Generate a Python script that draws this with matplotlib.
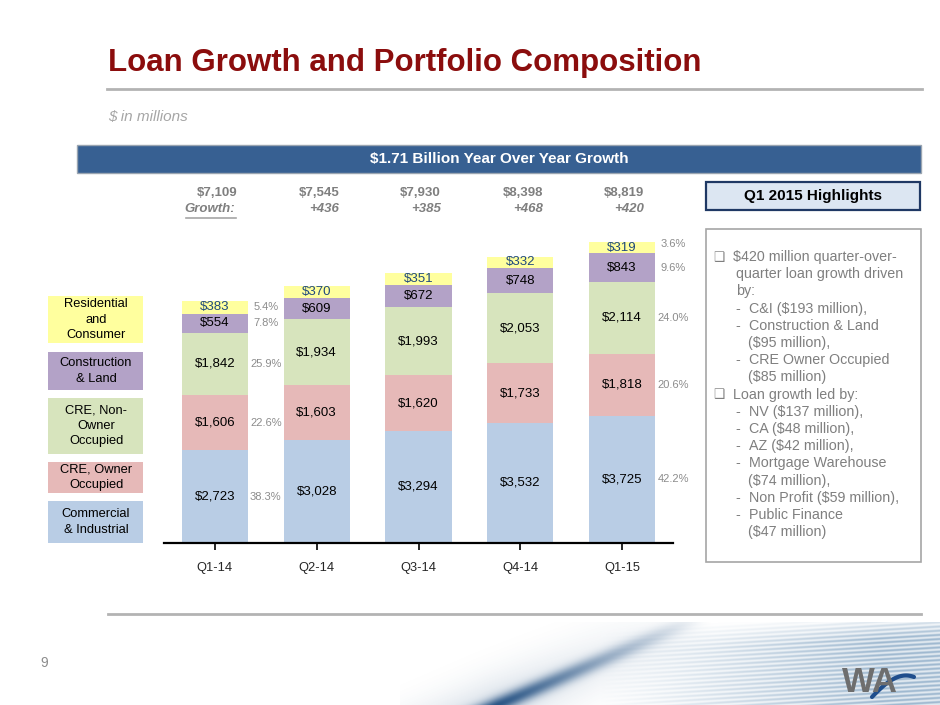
"""Loan growth and portfolio composition slide: stacked bars by loan category."""

import matplotlib

matplotlib.use("Agg")
import matplotlib.pyplot as plt
import matplotlib.patches as mpatches
import matplotlib.transforms as mtransforms
from matplotlib.lines import Line2D
import numpy as np

plt.rcParams["font.family"] = ["Liberation Sans", "DejaVu Sans"]

# ---- data -------------------------------------------------------------
quarters = ["Q1-14", "Q2-14", "Q3-14", "Q4-14", "Q1-15"]
commercial_industrial = [2723, 3028, 3294, 3532, 3725]
cre_owner_occupied = [1606, 1603, 1620, 1733, 1818]
cre_non_owner_occupied = [1842, 1934, 1993, 2053, 2114]
construction_land = [554, 609, 672, 748, 843]
residential_consumer = [383, 370, 351, 332, 319]
totals = [7109, 7545, 7930, 8398, 8819]
growth = [None, 436, 385, 468, 420]
pct_first = [38.3, 22.6, 25.9, 7.8, 5.4]
pct_last = [42.2, 20.6, 24.0, 9.6, 3.6]

segment_labels = [
    "Commercial\n& Industrial",
    "CRE, Owner\nOccupied",
    "CRE, Non-\nOwner\nOccupied",
    "Construction\n& Land",
    "Residential\nand\nConsumer",
]
segment_colors = ["#b9cde5", "#e6b9b8", "#d7e4bd", "#b3a2c7", "#ffff9e"]

highlight_lines = [
    ("box", "$420 million quarter-over-"),
    ("cont", "quarter loan growth driven"),
    ("cont", "by:"),
    ("dash", "C&I ($193 million),"),
    ("dash", "Construction & Land"),
    ("sub", "($95 million),"),
    ("dash", "CRE Owner Occupied"),
    ("sub", "($85 million)"),
    ("box", "Loan growth led by:"),
    ("dash", "NV ($137 million),"),
    ("dash", "CA ($48 million),"),
    ("dash", "AZ ($42 million),"),
    ("dash", "Mortgage Warehouse"),
    ("sub", "($74 million),"),
    ("dash", "Non Profit ($59 million),"),
    ("dash", "Public Finance"),
    ("sub", "($47 million)"),
]

W, H = 940, 705
fig = plt.figure(figsize=(W / 100, H / 100), dpi=100)


def fx(x):
    return x / W


def fy(y):
    return 1 - y / H


def rect(x0, y0, x1, y1, **kw):
    r = mpatches.Rectangle((fx(x0), fy(y1)), (x1 - x0) / W, (y1 - y0) / H,
                           transform=fig.transFigure, **kw)
    fig.add_artist(r)
    return r


def hline(x0, x1, y, **kw):
    fig.add_artist(Line2D([fx(x0), fx(x1)], [fy(y), fy(y)], transform=fig.transFigure, **kw))


# ---- header -----------------------------------------------------------
fig.text(fx(108), fy(63), "Loan Growth and Portfolio Composition", fontsize=22.5,
         fontweight="bold", color="#8b0d0d", va="center", ha="left")
hline(107, 922, 89, color="#b3b3b3", lw=2)
fig.text(fx(108), fy(117), "$ in millions", fontsize=11, style="italic",
         color="#a6a6a6", va="center", ha="left")

rect(77, 145, 921, 173, facecolor="#376092", edgecolor="#9aa5b1", lw=1)
fig.text(fx(499), fy(159), "$1.71 Billion Year Over Year Growth", fontsize=11,
         fontweight="bold", color="white", va="center", ha="center")

rect(706, 182, 920, 210, facecolor="#dce6f2", edgecolor="#1f3864", lw=1.6)
fig.text(fx(813), fy(196), "Q1 2015 Highlights", fontsize=11, fontweight="bold",
         color="black", va="center", ha="center")

# ---- chart ------------------------------------------------------------
ax = fig.add_axes([fx(164), fy(543), 509 / W, 313 / H])
x = np.arange(len(quarters))
series = [commercial_industrial, cre_owner_occupied, cre_non_owner_occupied,
          construction_land, residential_consumer]
bottom = np.zeros(len(quarters))
centers = []
for k, (vals, color) in enumerate(zip(series, segment_colors)):
    vals = np.array(vals, dtype=float)
    ax.bar(x, vals, bottom=bottom, width=0.65, color=color, edgecolor="none")
    mid = bottom + vals / 2
    centers.append(mid)
    txt_color = "#1f497d" if k == 4 else "black"
    for i in range(len(quarters)):
        ax.text(x[i], mid[i], f"${int(vals[i]):,}", ha="center", va="center",
                fontsize=9.5, color=txt_color)
    bottom = bottom + vals

for k in range(5):
    ax.text(x[0] + 0.5, centers[k][0], f"{pct_first[k]:.1f}%", ha="center",
            va="center", fontsize=8, color="#8c8c8c")
    ax.text(x[-1] + 0.5, centers[k][-1] + (120 if k == 4 else 0), f"{pct_last[k]:.1f}%",
            ha="center", va="center", fontsize=8, color="#8c8c8c")

ax.set_xlim(-0.5, 4.5)
ax.set_ylim(0, 9180)
ax.set_xticks(x)
ax.set_xticklabels(quarters)
ax.set_yticks([])
for side in ["top", "left", "right"]:
    ax.spines[side].set_visible(False)
ax.spines["bottom"].set_linewidth(1.6)
ax.tick_params(axis="x", length=5, width=1.2, pad=9, labelsize=9.3, labelcolor="#262626")
ax.patch.set_alpha(0)

# totals and growth row above the bars
blend = mtransforms.blended_transform_factory(ax.transData, fig.transFigure)
for i in range(len(quarters)):
    ax.text(x[i] + 0.22, fy(193), f"${totals[i]:,}", transform=blend, ha="right",
            va="center", fontsize=9.5, fontweight="bold", color="#7f7f7f")
    if growth[i] is None:
        ax.text(x[i] + 0.2, fy(209), "Growth:", transform=blend, ha="right",
                va="center", fontsize=9.5, fontweight="bold", style="italic",
                color="#7f7f7f")
    else:
        ax.text(x[i] + 0.22, fy(209), f"+{growth[i]}", transform=blend, ha="right",
                va="center", fontsize=9.5, fontweight="bold", style="italic",
                color="#7f7f7f")
hline(186, 236, 218, color="#a6a6a6", lw=1.2)

# ---- left legend boxes ------------------------------------------------
legend_boxes = [(501, 543), (462, 493), (398, 454), (352, 390), (296, 343)]
for (y0, y1), label, color in zip(legend_boxes, segment_labels, segment_colors):
    rect(48, y0, 143, y1, facecolor=color, edgecolor="none")
    fig.text(fx(96), fy((y0 + y1) / 2), label, ha="center", va="center",
             fontsize=9.3, color="black", linespacing=1.38)

# ---- highlights box ---------------------------------------------------
rect(706, 229, 921, 562, facecolor="white", edgecolor="#a6a6a6", lw=1.2)
for j, (kind, text) in enumerate(highlight_lines):
    yy = fy(257 + j * 17.2)
    if kind == "box":
        fig.text(fx(719), yy, "\u2751", ha="center", va="center", fontsize=9,
                 color="#7f7f7f", family=["DejaVu Sans"])
        fig.text(fx(733), yy, text, ha="left", va="center", fontsize=10.3, color="#7f7f7f")
    elif kind == "cont":
        fig.text(fx(736), yy, text, ha="left", va="center", fontsize=10.3, color="#7f7f7f")
    elif kind == "dash":
        fig.text(fx(738), yy, "-", ha="center", va="center", fontsize=10.3, color="#7f7f7f")
        fig.text(fx(749), yy, text, ha="left", va="center", fontsize=10.3, color="#7f7f7f")
    else:
        fig.text(fx(748), yy, text, ha="left", va="center", fontsize=10.3, color="#7f7f7f")

# ---- footer -----------------------------------------------------------
hline(108, 921, 614, color="#b3b3b3", lw=2)
fig.text(fx(44), fy(663), "9", ha="center", va="center", fontsize=10, color="#8c8c8c")

# decorative swoosh (background graphic)
sx0, sx1, sy0, sy1 = 400, 940, 622, 705
gx, gy = np.meshgrid(np.arange(sx0, sx1) + 0.5, np.arange(sy0, sy1) + 0.5)
stripes = 0.5 + 0.5 * np.cos(2 * np.pi * (gy + 0.06 * (gx - 600)) / 4.2)
a1 = np.clip((gx - 600) / 280, 0, 1) * np.clip((gy - 628 + 0.05 * (gx - 600)) / 25, 0, 1)
a1 = a1 * (0.2 + 0.45 * stripes)
p0 = np.array([498.0, 705.0])
p1 = np.array([690.0, 622.0])
dvec = (p1 - p0) / np.linalg.norm(p1 - p0)
rel_x, rel_y = gx - p0[0], gy - p0[1]
along = rel_x * dvec[0] + rel_y * dvec[1]
perp = rel_x * dvec[1] - rel_y * dvec[0]
fade = np.clip(1 - along / 230, 0, 1)
a2 = np.exp(-(perp / 8) ** 2) * fade * 0.8 + np.exp(-(perp / 30) ** 2) * fade * 0.15
a2 = np.clip(a2, 0, 1)
c1 = np.array([0.42, 0.58, 0.72])
c2 = np.array([0.12, 0.30, 0.50])
alpha = 1 - (1 - a1) * (1 - a2)
rgb = (c1[None, None, :] * (a1 * (1 - a2))[..., None] + c2[None, None, :] * a2[..., None])
rgb = rgb / np.maximum(alpha, 1e-6)[..., None]
img = np.dstack([np.clip(rgb, 0, 1), alpha])
sax = fig.add_axes([fx(sx0), fy(sy1), (sx1 - sx0) / W, (sy1 - sy0) / H], zorder=-1)
sax.imshow(img, aspect="auto", extent=[sx0, sx1, sy1, sy0], interpolation="bilinear")
sax.axis("off")

# logo
fig.text(fx(870), fy(683), "WA", ha="center", va="center", fontsize=25,
         fontweight="bold", color="#6e6e6e", family=["Liberation Sans"])
t = np.linspace(0, 1, 40)
arc_x = 872 + 42 * t
arc_y = 697 - 28 * np.sin(np.pi * 0.5 * t) + 8 * t ** 2
fig.add_artist(Line2D(fx(arc_x), fy(arc_y), transform=fig.transFigure,
                      color="#1f4e8c", lw=3, solid_capstyle="round"))

fig.savefig("out.png", dpi=100)
